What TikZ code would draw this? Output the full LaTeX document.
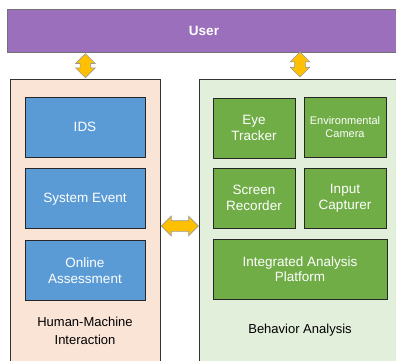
\documentclass[tikz,border=0pt]{standalone}
\usepackage{fontspec}
\setmainfont{Liberation Sans}
\definecolor{userpurple}{RGB}{155,111,188}
\definecolor{hmipeach}{RGB}{250,228,214}
\definecolor{bagreen}{RGB}{226,239,218}
\definecolor{boxblue}{RGB}{91,155,213}
\definecolor{boxgreen}{RGB}{112,173,71}
\definecolor{arrowgold}{RGB}{255,192,0}
\usepackage{tikz}
\usetikzlibrary{positioning,shapes.arrows,calc}

\begin{document}
\begin{tikzpicture}[x=1pt, y=-1pt,
        every node/.style={font=\fontsize{13.5}{15.5}\selectfont, align=center},
        panel/.style={draw=black!80, line width=0.8pt},
        hmibox/.style={draw=black!85, line width=0.8pt, fill=boxblue, text=white, minimum width=120pt, minimum height=60pt},
        babox/.style={draw=black!85, line width=0.8pt, fill=boxgreen, text=white, minimum width=82pt, minimum height=60pt},
        link/.style={shape=double arrow, draw=black!40, fill=arrowgold, line width=0.6pt, inner sep=5pt,
          double arrow head extend=4.5pt, double arrow head indent=0pt}
      ]
      \useasboundingbox (0,0) rectangle (396,360);
      % user bar
      \node[draw=black!55, line width=0.8pt, fill=userpurple, text=white, font=\fontsize{13.5}{15}\selectfont\bfseries,
        minimum width=394pt, minimum height=43pt] (user) at (204,30.5) {User};
      % panels
      \node[panel, fill=hmipeach, minimum width=150pt, minimum height=300pt, anchor=north west] (hmi) at (10,79) {};
      \node[panel, fill=bagreen, minimum width=205pt, minimum height=300pt, anchor=north west] (ba) at (199,79) {};
      % human-machine interaction
      \node[hmibox] (ids) at (85,127) {IDS};
      \node[hmibox, below=11pt of ids] (sysevent) {System Event};
      \node[hmibox, below=11pt of sysevent] (online) {Online\\Assessment};
      \node[font=\fontsize{13}{18}\selectfont] (hmilabel) at (85,331) {Human-Machine\\Interaction};
      % behavior analysis
      \node[babox] (eye) at (254,128) {Eye\\Tracker};
      \node[babox, font=\fontsize{11}{12.5}\selectfont] (envcam) at (345,127) {Environmental\\Camera};
      \node[babox] (screen) at (254,198) {Screen\\Recorder};
      \node[babox] (input) at (345,198) {Input\\Capturer};
      \node[babox, minimum width=174pt] (iap) at (300,269) {Integrated Analysis\\Platform};
      \node[font=\fontsize{13}{15}\selectfont] (balabel) at (300,330) {Behavior Analysis};
      % connectors
      \node[link, rotate=90, minimum height=24pt] (uhmi) at ($(hmi.north |- user.south)!0.5!(hmi.north)$) {};
      \node[link, rotate=90, minimum height=25pt] (uba) at (300,64.5) {};
      \node[link, minimum height=37pt] (hmiba) at ($(hmi.east |- 0,226)!0.5!(ba.west |- 0,226)$) {};
    \end{tikzpicture}
\end{document}
